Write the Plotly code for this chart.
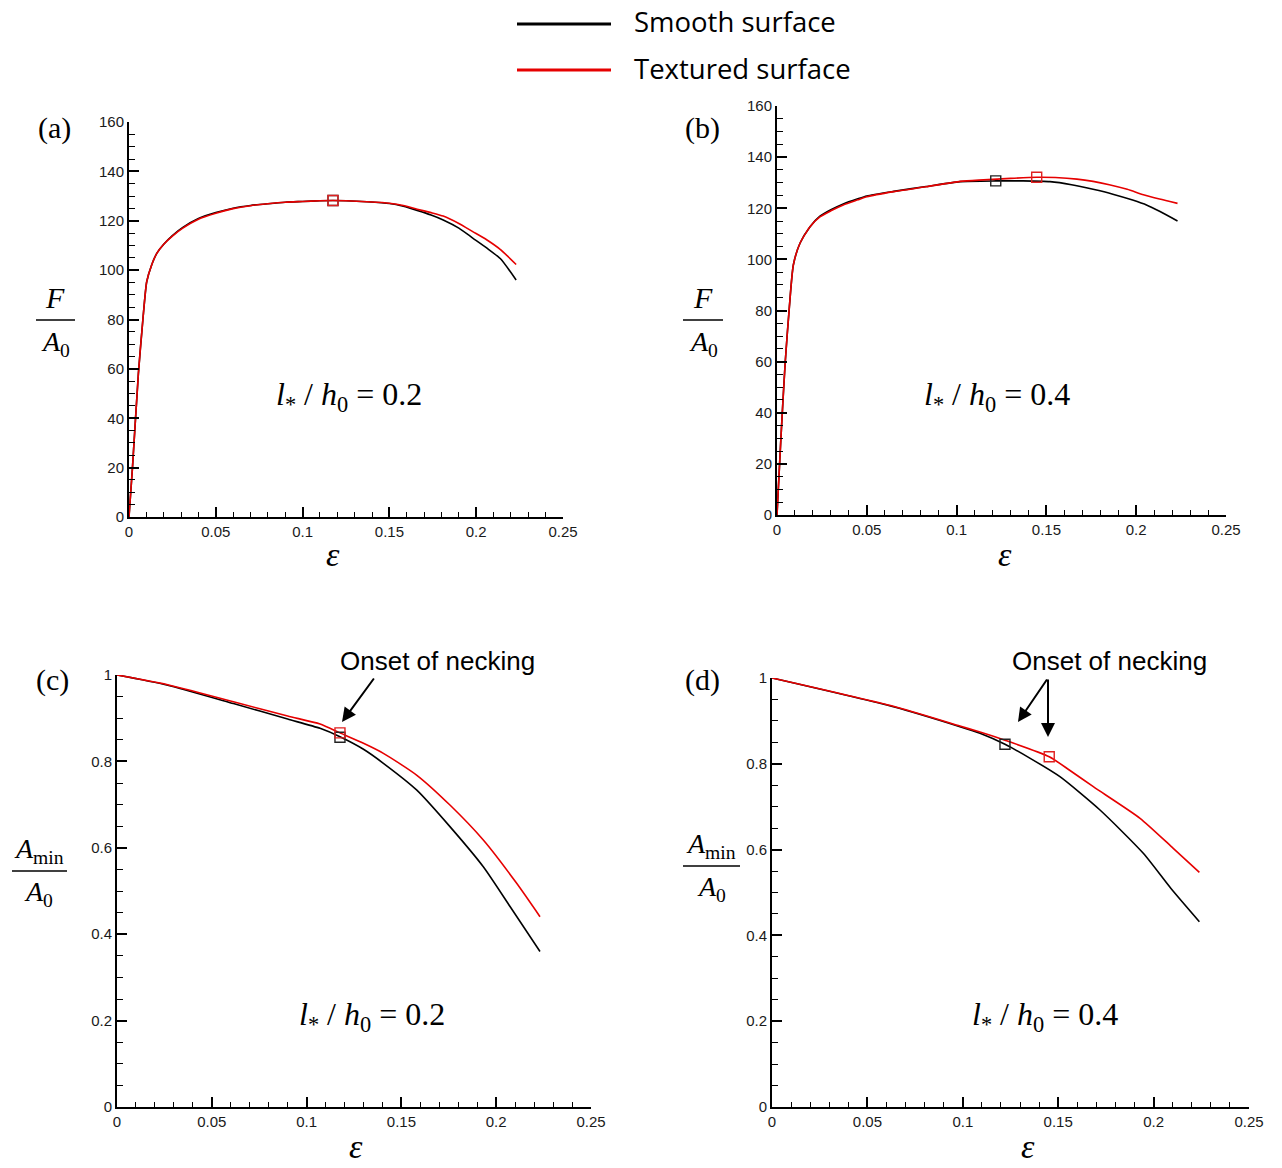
import plotly.graph_objects as go

W, H = 1282, 1168

# ---- (a) F/A0 vs strain, l*/h0 = 0.2 ----
eps_a = [0, 0.002, 0.0054, 0.008, 0.0102, 0.013, 0.016, 0.02, 0.025, 0.031, 0.04, 0.05,
         0.06, 0.07, 0.08, 0.09, 0.1, 0.11, 0.1175, 0.125, 0.137, 0.15, 0.158, 0.166,
         0.174, 0.181, 0.19, 0.198, 0.206, 0.214, 0.223]
smooth_a = [0, 20, 58, 80, 95.3, 102, 106.8, 110.5, 114, 117.3, 120.9, 123.3,
            125.1, 126.2, 126.9, 127.5, 127.8, 128.1, 128.2, 128.1, 127.7, 127.0, 125.9, 124.2,
            122.3, 120.3, 117.0, 113.0, 109.0, 104.6, 96.0]
textured_a = [0, 20, 58, 80, 95.3, 102, 106.8, 110.5, 113.8, 117.0, 120.6, 123.0,
              124.9, 126.1, 126.9, 127.5, 127.8, 128.1, 128.2, 128.1, 127.7, 127.1, 126.2, 124.7,
              123.3, 121.9, 118.9, 115.6, 112.3, 108.3, 102.3]
neck_a = {"smooth": (0.1175, 128.2), "textured": (0.1175, 128.2)}

# ---- (b) F/A0 vs strain, l*/h0 = 0.4 ----
eps_b_s = [0, 0.0021, 0.0045, 0.0069, 0.0091, 0.0128, 0.0184, 0.0239, 0.03, 0.0369, 0.045,
           0.05, 0.065, 0.083, 0.102, 0.1218, 0.137, 0.152, 0.164, 0.176, 0.187, 0.198,
           0.206, 0.213, 0.223]
smooth_b = [0, 29, 59, 81.5, 97.8, 106.3, 112.8, 116.9, 119.4, 121.7, 123.7,
            124.8, 126.6, 128.5, 130.4, 130.7, 130.7, 130.4, 129.2, 127.4, 125.5, 123.2,
            121.2, 118.8, 115.0]
eps_b_t = [0, 0.0021, 0.0045, 0.0069, 0.0091, 0.0128, 0.0184, 0.0239, 0.03, 0.0369, 0.045,
           0.05, 0.065, 0.083, 0.102, 0.115, 0.13, 0.1446, 0.155, 0.167, 0.176, 0.185,
           0.195, 0.204, 0.213, 0.223]
textured_b = [0, 29, 59, 81.5, 97.8, 106.3, 112.8, 116.6, 119.0, 121.3, 123.3,
              124.5, 126.5, 128.4, 130.5, 131.1, 131.7, 132.1, 132.0, 131.4, 130.5, 129.2,
              127.4, 125.3, 123.6, 121.9]
neck_b = {"smooth": (0.1218, 130.7), "textured": (0.1446, 132.1)}

# ---- (c) Amin/A0 vs strain, l*/h0 = 0.2 ----
eps_c = [0, 0.0262, 0.0614, 0.09, 0.1071, 0.1176, 0.13, 0.1405, 0.158, 0.1756, 0.1932,
         0.2073, 0.2231]
smooth_c = [1, 0.977, 0.934, 0.898, 0.8765, 0.857, 0.828, 0.7956, 0.734, 0.649, 0.556,
            0.464, 0.36]
eps_c_t = [0, 0.0262, 0.0614, 0.09, 0.1071, 0.1176, 0.13, 0.1405, 0.158, 0.1756, 0.1932,
           0.2108, 0.2231]
textured_c = [1, 0.978, 0.938, 0.905, 0.8866, 0.866, 0.842, 0.8187, 0.7685, 0.699, 0.618,
              0.5178, 0.4405]
neck_c = {"smooth": (0.1176, 0.856), "textured": (0.1176, 0.866)}

# ---- (d) Amin/A0 vs strain, l*/h0 = 0.4 ----
eps_d_s = [0, 0.0636, 0.0985, 0.109, 0.1221, 0.136, 0.1509, 0.1719, 0.1946, 0.209, 0.224]
smooth_d = [1, 0.933, 0.8865, 0.871, 0.8454, 0.811, 0.77, 0.6923, 0.5914, 0.51, 0.432]
eps_d_t = [0, 0.0636, 0.0985, 0.109, 0.1221, 0.1453, 0.156, 0.1684, 0.1929, 0.2103, 0.224]
textured_d = [1, 0.934, 0.888, 0.874, 0.855, 0.8166, 0.785, 0.7466, 0.673, 0.603, 0.547]
neck_d = {"smooth": (0.1221, 0.8454), "textured": (0.1453, 0.8166)}

x_ticks = [0, 0.05, 0.1, 0.15, 0.2, 0.25]

BLACK = "#000000"
RED = "#e60000"


def fx(px):
    return px / W


def fy(py):
    return 1 - py / H


fig = go.Figure()

panels = [
    ("", eps_a, smooth_a, eps_a, textured_a, neck_a),
    ("2", eps_b_s, smooth_b, eps_b_t, textured_b, neck_b),
    ("3", eps_c, smooth_c, eps_c_t, textured_c, neck_c),
    ("4", eps_d_s, smooth_d, eps_d_t, textured_d, neck_d),
]

for suf, xs, ys, xt, yt, neck in panels:
    xa, ya = "x" + suf, "y" + suf
    fig.add_trace(go.Scatter(x=xs, y=ys, mode="lines", xaxis=xa, yaxis=ya,
                             line=dict(color=BLACK, width=1.6, shape="spline", smoothing=0.6),
                             showlegend=False))
    fig.add_trace(go.Scatter(x=xt, y=yt, mode="lines", xaxis=xa, yaxis=ya,
                             line=dict(color=RED, width=1.6, shape="spline", smoothing=0.6),
                             showlegend=False))
    fig.add_trace(go.Scatter(x=[neck["smooth"][0]], y=[neck["smooth"][1]], mode="markers",
                             xaxis=xa, yaxis=ya, showlegend=False,
                             marker=dict(symbol="square-open", size=10,
                                         color="#222222", line=dict(width=1.4))))
    fig.add_trace(go.Scatter(x=[neck["textured"][0]], y=[neck["textured"][1]], mode="markers",
                             xaxis=xa, yaxis=ya, showlegend=False,
                             marker=dict(symbol="square-open", size=10,
                                         color="#e02020", line=dict(width=1.4))))

tick_font = dict(family="Liberation Sans, Arial", size=15, color="#1a1a1a")


def xaxis_cfg(x0, x1, anchor):
    return dict(domain=[fx(x0), fx(x1)], anchor=anchor, range=[0, 0.25],
                tickvals=x_ticks, ticktext=["0", "0.05", "0.1", "0.15", "0.2", "0.25"],
                showline=True, linewidth=2, linecolor="black", mirror=False,
                ticks="inside", ticklen=10, tickwidth=2, tickcolor="black",
                minor=dict(ticks="inside", ticklen=5, tickwidth=1, tickcolor="black",
                           dtick=0.01),
                showgrid=False, zeroline=False, tickfont=tick_font, automargin=False)


def yaxis_cfg(y0, y1, anchor, rng, dtick, mdtick):
    return dict(domain=[fy(y1), fy(y0)], anchor=anchor, range=rng, dtick=dtick,
                tick0=0, showline=True, linewidth=2, linecolor="black", mirror=False,
                ticks="inside", ticklen=10, tickwidth=2, tickcolor="black",
                minor=dict(ticks="inside", ticklen=6, tickwidth=1, tickcolor="black",
                           dtick=mdtick),
                showgrid=False, zeroline=False, tickfont=tick_font, automargin=False)


fig.update_layout(
    width=W, height=H, autosize=False,
    margin=dict(l=0, r=0, t=0, b=0, autoexpand=False),
    paper_bgcolor="white", plot_bgcolor="white",
    xaxis=xaxis_cfg(129, 563, "y"),
    yaxis=yaxis_cfg(122, 517, "x", [0, 160], 20, 5),
    xaxis2=xaxis_cfg(777, 1226, "y2"),
    yaxis2=yaxis_cfg(106, 515, "x2", [0, 160], 20, 5),
    xaxis3=xaxis_cfg(117, 591, "y3"),
    yaxis3=yaxis_cfg(675, 1107, "x3", [0, 1], 0.2, 0.05),
    xaxis4=xaxis_cfg(772, 1249, "y4"),
    yaxis4=yaxis_cfg(678, 1107, "x4", [0, 1], 0.2, 0.05),
)

annotations = []
shapes = []

serif = "Liberation Serif, Times New Roman, serif"


def text(px, py, s, size, family=serif, xanchor="center", yanchor="middle"):
    annotations.append(dict(x=fx(px), y=fy(py), xref="paper", yref="paper", text=s,
                            showarrow=False, xanchor=xanchor, yanchor=yanchor,
                            font=dict(family=family, size=size, color="black")))


def hline(x0, x1, py, color="black", width=1.5):
    shapes.append(dict(type="line", xref="paper", yref="paper",
                       x0=fx(x0), x1=fx(x1), y0=fy(py), y1=fy(py),
                       line=dict(color=color, width=width)))


def arrow(tx, ty, hx, hy):
    annotations.append(dict(x=fx(hx), y=fy(hy), xref="paper", yref="paper",
                            ax=tx - hx, ay=ty - hy, axref="pixel", ayref="pixel",
                            text="", showarrow=True, arrowhead=2, arrowsize=1.4,
                            arrowwidth=2, arrowcolor="black", standoff=0))


# legend (kept fully inside the page)
hline(517, 611, 24, BLACK, 3)
hline(517, 611, 70, RED, 3)
text(632, 1, "Smooth surface", 27.5, family="Open Sans, sans-serif", xanchor="left",
     yanchor="top")
text(632, 48, "Textured surface", 27.5, family="Open Sans, sans-serif", xanchor="left",
     yanchor="top")

# panel letters
text(54, 128, "(a)", 30)
text(702, 128, "(b)", 30)
text(52, 680, "(c)", 30)
text(702, 680, "(d)", 30)

# y-axis titles as fractions
text(55, 297, "<i>F</i>", 30)
hline(36, 75, 320)
text(55, 343, "<i>A</i><sub>0</sub>", 28)
text(703, 297, "<i>F</i>", 30)
hline(683, 723, 320)
text(703, 343, "<i>A</i><sub>0</sub>", 28)
text(39, 850, "<i>A</i><sub>min</sub>", 28)
hline(12, 67, 871)
text(38, 893, "<i>A</i><sub>0</sub>", 28)
text(711, 845, "<i>A</i><sub>min</sub>", 28)
hline(683, 740, 866)
text(711, 888, "<i>A</i><sub>0</sub>", 28)

# x-axis titles
text(333, 554, "<i>ε</i>", 34)
text(1005, 554, "<i>ε</i>", 34)
text(356, 1167, "<i>ε</i>", 34, yanchor="bottom")
text(1028, 1167, "<i>ε</i>", 34, yanchor="bottom")

# geometry parameter labels
text(349, 396, "<i>l</i><sub>*</sub> / <i>h</i><sub>0</sub> = 0.2", 32)
text(997, 396, "<i>l</i><sub>*</sub> / <i>h</i><sub>0</sub> = 0.4", 32)
text(372, 1016, "<i>l</i><sub>*</sub> / <i>h</i><sub>0</sub> = 0.2", 32)
text(1045, 1016, "<i>l</i><sub>*</sub> / <i>h</i><sub>0</sub> = 0.4", 32)

# necking callouts
sans = "Liberation Sans, Arial, sans-serif"
text(437, 661, "Onset of necking", 26, family=sans)
arrow(375, 677, 342, 722)
text(1109, 661, "Onset of necking", 26, family=sans)
arrow(1048, 678, 1018, 722)
arrow(1048, 678, 1048, 737)

fig.update_layout(annotations=annotations, shapes=shapes)

fig.write_html("out.html")
